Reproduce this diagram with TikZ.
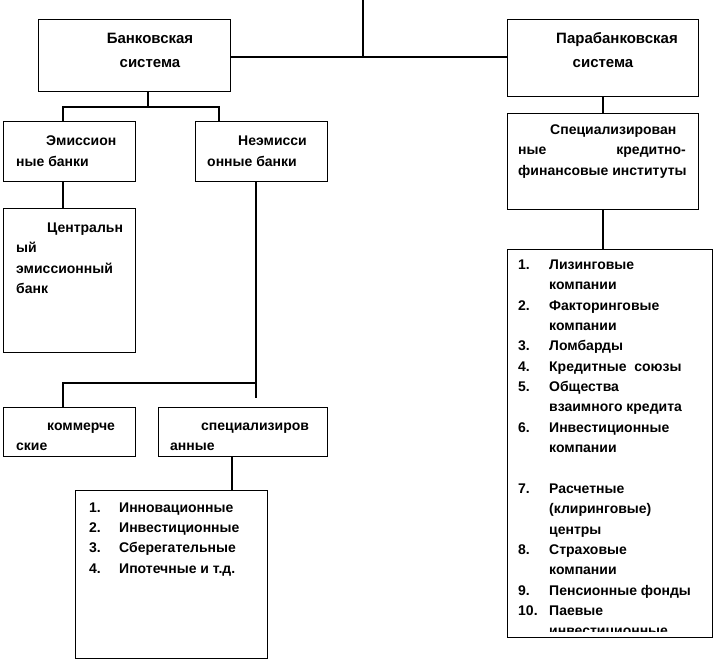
\documentclass[tikz,border=0pt]{standalone}
\usepackage{fontspec}
\setmainfont{Liberation Sans}
\usetikzlibrary{positioning,calc}
\tikzset{
  blk/.style={draw,line width=1.2pt,anchor=north west,inner sep=0pt},
  txt/.style={anchor=base west,inner sep=0pt,font=\bfseries\fontsize{14}{17}\selectfont},
  ttl/.style={anchor=base,inner sep=0pt,font=\bfseries\fontsize{15}{18}\selectfont},
  conn/.style={line width=1.2pt}
}
\newcommand{\orgbox}[5]{\node[blk,minimum width=#4pt,minimum height=#5pt] (#1) at (#2,#3) {};}
\newcommand{\boxline}[4]{\node[txt] (#1) at (#2,#3) {#4};}

\begin{document}
\begin{tikzpicture}[x=1pt,y=-1pt]
\useasboundingbox (0,0) rectangle (715,662);
\orgbox{bank}{38}{19}{192}{72}
\orgbox{para}{507}{19}{191}{77}
\orgbox{emis}{3}{121}{132}{60}
\orgbox{nonemis}{195}{121}{132}{60}
\orgbox{central}{3}{208}{132}{144}
\orgbox{comm}{3}{407}{132}{49}
\orgbox{spec}{158}{407}{169}{49}
\orgbox{blist}{75}{490}{192}{168}
\orgbox{rspec}{507}{113}{191}{96}
\orgbox{rlist}{507}{249}{205}{388}

\node[ttl] (bankA) at (150,43) {Банковская};
\node[ttl] (bankB) at (150,67) {система};
\node[ttl] (paraA) at (617,43) {Парабанковская};
\node[ttl] (paraB) at (603,67) {система};
\boxline{emisA}{46}{145}{Эмиссион}
\boxline{emisB}{16}{166}{ные банки}
\boxline{nonemisA}{238}{145}{Неэмисси}
\boxline{nonemisB}{207}{166}{онные банки}
\boxline{centralA}{47}{232}{Центральн}
\boxline{centralB}{16}{252.5}{ый}
\boxline{centralC}{16}{273}{эмиссионный}
\boxline{centralD}{16}{293}{банк}
\boxline{commA}{47}{430}{коммерче}
\boxline{commB}{16}{450.5}{ские}
\boxline{specA}{201}{430}{специализиров}
\boxline{specB}{170}{450.5}{анные}
\boxline{rspecA}{550}{134}{Специализирован}
\boxline{rspecB}{518}{154.5}{ные}
\node[txt,anchor=base east] (rspecC) at (686,154.5) {кредитно-};
\boxline{rspecD}{518}{175}{финансовые институты}

\foreach \n/\t [count=\k from 0] in {1./Инновационные,2./Инвестиционные,3./Сберегательные,4./Ипотечные и т.д.}{
  \node[txt] (bn\k) at (89,{512+20.35*\k}) {\n};
  \node[txt] (bl\k) at (119,{512+20.35*\k}) {\t};
}
\foreach \n/\t [count=\k from 0] in {1./Лизинговые,/компании,2./Факторинговые,/компании,3./Ломбарды,4./Кредитные\ \ союзы,5./Общества,/взаимного кредита,6./Инвестиционные,/компании,/,7./Расчетные,/(клиринговые),/центры,8./Страховые,/компании,9./Пенсионные фонды,10./Паевые}{
  \node[txt] (rn\k) at (518,{269.5+20.35*\k}) {\n};
  \node[txt] (rl\k) at (549,{269.5+20.35*\k}) {\t};
}
\begin{scope}
\clip (rlist.north west) rectangle (712,631);
\node[txt] (rl18) at (549,{269.5+20.35*18}) {инвестиционные};
\end{scope}

\coordinate (topend) at (363,0);
\coordinate (hjoin) at (363,57);
\draw[conn] (topend) -- (hjoin);
\draw[conn] (bank.east |- hjoin) -- (para.west |- hjoin);
\coordinate (bfork) at (148,107);
\draw[conn] (bank.south -| bfork) -- (bfork);
\draw[conn] (emis.north -| 63,0) |- (bfork) -| (nonemis.north -| 219,0);
\draw[conn] (emis.south -| 63,0) -- (central.north -| 63,0);
\coordinate (nstub) at (256,398);
\coordinate (cfork) at (256,383);
\draw[conn] (nonemis.south -| nstub) -- (nstub);
\draw[conn] (comm.north -| 63,0) |- (cfork);
\draw[conn] (spec.south -| 232,0) -- (blist.north -| 232,0);
\draw[conn] (para.south -| 603,0) -- (rspec.north -| 603,0);
\draw[conn] (rspec.south -| 603,0) -- (rlist.north -| 603,0);
\end{tikzpicture}
\end{document}
